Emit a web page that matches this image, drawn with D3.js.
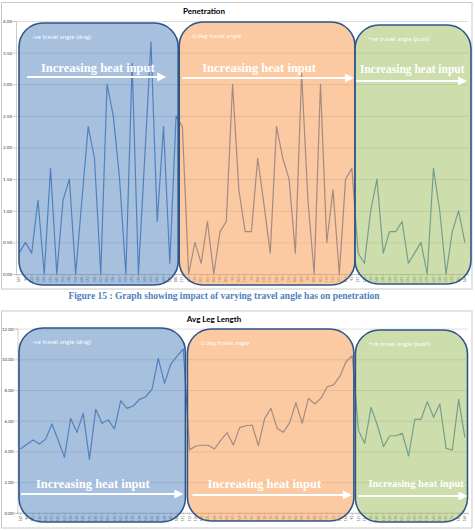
<!DOCTYPE html>
<html>
<head>
<meta charset="utf-8">
<script src="https://cdn.jsdelivr.net/npm/d3@7"></script>
<style>
  body { margin: 0; background: #fff; }
  svg { font-family: Lato, "Liberation Sans", sans-serif; }
</style>
</head>
<body>
<svg width="475" height="531"></svg>
<script>
// sample ids along the x axis (shared by both charts)
let sampleIds = ["167", "96", "122", "146", "148", "171", "145", "153", "138", "158", "160", "172",
    "150", "151", "183", "176", "181", "159", "175", "179", "165", "163", "186", "169",
    "170", "180", "111", "113", "116", "101", "105", "104", "118", "103", "97", "107",
    "119", "92", "108", "110", "115", "120", "98", "114", "106", "109", "99", "100",
    "102", "117", "112", "121", "124", "93", "131", "126", "134", "140", "128", "136",
    "129", "141", "132", "137", "127", "139", "142", "130", "143", "133", "135", "144"];

// penetration values (top chart)
let penetration = [0.33, 0.5, 0.33, 1.17, 0, 1.67, 0, 1.17, 1.5, 0, 1.17, 2.33, 1.83, 0, 3.0, 2.5,
    1.5, 0, 3.33, 0, 1.83, 3.67, 0.83, 2.33, 0.17, 2.5,
    2.33, 0, 0.5, 0.17, 0.83, 0, 0.67, 0.83, 3.0, 1.33, 0.67, 0.67, 1.83, 1.1, 0.33, 2.33,
    1.83, 1.5, 0.33, 3.17, 1.17, 0, 3.0, 0.5, 1.33, 0, 1.5, 1.67,
    0.33, 0.17, 1.0, 1.5, 0.33, 0.67, 0.67, 0.83, 0.17, 0.33, 0.5, 0, 1.67, 1.0, 0, 0.67, 1.0, 0.5];

// average leg length values (bottom chart)
let legLength = [4.16, 4.46, 4.74, 4.48, 4.8, 5.78, 4.74, 3.61, 6.15, 5.24, 6.48, 3.48, 6.74, 5.83,
    6.05, 5.46, 7.3, 6.8, 6.96, 7.39, 7.56, 8.06, 10.06, 8.43, 9.69, 10.21, 10.67,
    4.1, 4.35, 4.4, 4.4, 4.16, 4.74, 5.22, 4.41, 5.55, 5.67, 5.72, 4.37, 6.15, 6.8, 5.5,
    5.24, 5.87, 7.17, 5.83, 7.46, 7.09, 7.46, 8.21, 8.33, 8.87, 9.84, 10.23,
    5.35, 4.53, 6.87, 5.72, 4.31, 5.02, 5.02, 5.18, 3.7, 6.09, 6.09, 7.24, 6.22, 7.09,
    4.2, 4.09, 7.39, 4.92];

let penTicks = [0, 0.5, 1, 1.5, 2, 2.5, 3, 3.5, 4];
let legTicks = [0, 2, 4, 6, 8, 10, 12];

let zoneNames = ["-ve travel angle (drag)", "0 deg travel angle", "+ve travel angle (push)"];
let heatLabel = "Increasing heat input";
let caption = "Figure 15 : Graph showing impact of varying travel angle has on penetration";

// first / last sample index of each zone
let penZones = [[0, 25], [26, 53], [54, 71]];
let legZones = [[0, 26], [27, 53], [54, 71]];

let zoneFill = ["#4f81bd", "#f79646", "#9bbb59"];
let lineColor = "#4f81bd";
let serif = "'Liberation Serif', 'Times New Roman', serif";

let s = d3.select("svg");

let drawChart = (opt) => {
    let g = s.append("g");

    // chart frame
    g.append("rect")
        .attr("x", 1.5).attr("y", opt.frameTop)
        .attr("width", 470.5).attr("height", opt.frameBottom - opt.frameTop)
        .attr("fill", "#fff").attr("stroke", "#c8c8c8");

    g.append("text")
        .attr("x", opt.titleX).attr("y", opt.titleY)
        .attr("text-anchor", "middle")
        .attr("font-size", 8).attr("font-weight", "bold")
        .attr("fill", "#000")
        .text(opt.title);

    let x = d3.scaleBand()
        .domain(d3.range(opt.values.length))
        .range([opt.left, 468]);
    let cx = i => x(i) + x.bandwidth() / 2;

    let y = d3.scaleLinear().domain(opt.domain).range([opt.bottom, opt.top]);

    // gridlines
    g.append("g")
        .attr("transform", "translate(" + opt.left + ",0)")
        .call(d3.axisLeft(y).tickValues(opt.ticks).tickSize(-(468 - opt.left)).tickFormat(""))
        .call(a => a.select(".domain").remove())
        .call(a => a.selectAll("line").attr("stroke", "#d4d4d4").attr("stroke-width", 0.8));

    // y axis labels
    g.append("g")
        .attr("transform", "translate(" + opt.left + ",0)")
        .call(d3.axisLeft(y).tickValues(opt.ticks).tickSize(3).tickFormat(d3.format(".2f")))
        .call(a => a.select(".domain").attr("stroke", "#bfbfbf").attr("stroke-width", 0.8))
        .call(a => a.selectAll("line").attr("stroke", "#bfbfbf").attr("stroke-width", 0.8))
        .call(a => a.selectAll("text").attr("font-size", 4.5).attr("fill", "#404040")
            .attr("x", -4).style("font-family", "Lato, sans-serif"));

    // x axis with rotated sample ids
    g.append("g")
        .attr("transform", "translate(0," + opt.bottom + ")")
        .call(d3.axisBottom(x).tickSize(2).tickFormat(i => sampleIds[i]))
        .call(a => a.select(".domain").attr("stroke", "#bfbfbf").attr("stroke-width", 0.8))
        .call(a => a.selectAll("line").attr("stroke", "#bfbfbf"))
        .call(a => a.selectAll("text")
            .attr("font-size", 3.2).attr("fill", "#595959")
            .style("font-family", "Lato, sans-serif")
            .attr("transform", "rotate(-90)")
            .attr("text-anchor", "end")
            .attr("x", -3).attr("y", 0).attr("dy", "0.35em"));

    // series line
    let line = d3.line().x((d, i) => cx(i)).y(d => y(d));
    g.append("path")
        .datum(opt.values)
        .attr("d", line)
        .attr("fill", "none")
        .attr("stroke", lineColor)
        .attr("stroke-width", 1.2)
        .attr("stroke-linejoin", "round");

    // translucent zone shapes drawn over the line
    opt.zones.forEach((z, k) => {
        let lay = opt.layout[k];
        let x0 = x(z[0]) + lay.inL;
        let x1 = x(z[1]) + x.bandwidth() + lay.inR;
        let y0 = lay.top;
        let y1 = lay.bottom;

        g.append("rect")
            .attr("x", x0).attr("y", y0)
            .attr("width", x1 - x0).attr("height", y1 - y0)
            .attr("rx", 24).attr("ry", 24)
            .attr("fill", zoneFill[k]).attr("fill-opacity", 0.5)
            .attr("stroke", "#2f5587").attr("stroke-width", 1.6);

        g.append("text")
            .attr("x", x0 + 13).attr("y", y0 + 16)
            .attr("font-size", 6.3).attr("fill", "#fff")
            .attr("fill-opacity", 0.95)
            .text(zoneNames[k]);

        g.append("text")
            .attr("x", x0 + lay.textDx).attr("y", lay.textY)
            .style("font-family", serif)
            .attr("font-weight", "bold")
            .attr("font-size", lay.fs)
            .attr("fill", "#fff")
            .text(heatLabel);

        let ax0 = x0 + lay.arL;
        let ax1 = x1 - lay.arR;
        g.append("line")
            .attr("x1", ax0).attr("x2", ax1 - 7)
            .attr("y1", lay.arY).attr("y2", lay.arY)
            .attr("stroke", "#fff").attr("stroke-width", 2.2);
        g.append("path")
            .attr("d", "M" + (ax1 - 9) + "," + (lay.arY - 4.5) + " L" + ax1 + "," + lay.arY +
                " L" + (ax1 - 9) + "," + (lay.arY + 4.5) + " Z")
            .attr("fill", "#fff");
    });
};

drawChart({
    title: "Penetration", titleX: 204, titleY: 14,
    frameTop: 2.5, frameBottom: 289,
    values: penetration, zones: penZones,
    domain: [0, 4], ticks: penTicks,
    left: 16, top: 21, bottom: 274,
    layout: [
        { inL: 3, inR: -1, top: 23, bottom: 285, textDx: 22, textY: 72, fs: 12.5, arL: 8, arR: 12, arY: 77 },
        { inL: 0, inR: 0, top: 22, bottom: 285, textDx: 23, textY: 72, fs: 12.5, arL: 3, arR: 1, arY: 78 },
        { inL: 0, inR: 3, top: 25, bottom: 284, textDx: 5, textY: 73, fs: 11.5, arL: 1, arR: 4, arY: 81 }
    ]
});

s.append("text")
    .attr("x", 224).attr("y", 298.5)
    .attr("text-anchor", "middle")
    .style("font-family", serif)
    .attr("font-weight", "bold")
    .attr("font-size", 9.5)
    .attr("fill", "#4f81bd")
    .text(caption);

drawChart({
    title: "Avg Leg Length", titleX: 214, titleY: 322,
    frameTop: 311, frameBottom: 528,
    values: legLength, zones: legZones,
    domain: [0, 12], ticks: legTicks,
    left: 17.5, top: 328.6, bottom: 512.8,
    layout: [
        { inL: 1.5, inR: -1, top: 328, bottom: 522, textDx: 17, textY: 488, fs: 12.5, arL: 2, arR: 2, arY: 494 },
        { inL: 1, inR: -1.5, top: 329, bottom: 521, textDx: 20, textY: 488, fs: 12.5, arL: 5, arR: 2, arY: 495 },
        { inL: 0, inR: -0.5, top: 330, bottom: 522, textDx: 13, textY: 487, fs: 10.5, arL: 3, arR: 0, arY: 496 }
    ]
});
</script>
</body>
</html>
